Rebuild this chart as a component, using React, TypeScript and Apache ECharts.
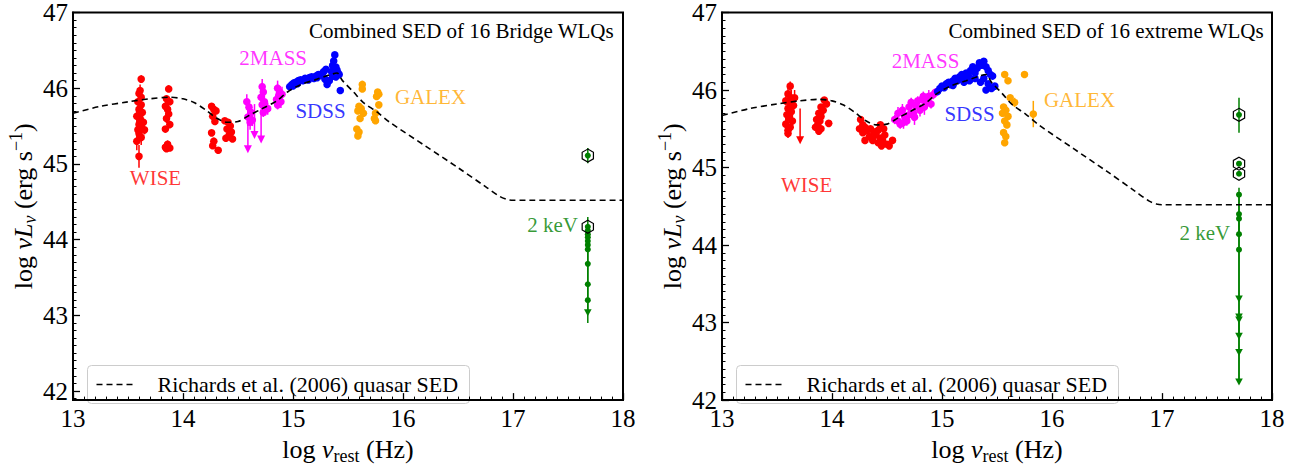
import React, { useEffect, useRef } from "react";
import * as echarts from "echarts";

// Richards et al. (2006) mean quasar SED, log nu vs log nuLnu
const SED_CURVE = [
  [13.0, 45.67], [13.25, 45.76], [13.5, 45.82], [13.7, 45.86], [13.88, 45.88], [14.0, 45.86],
  [14.1, 45.81], [14.2, 45.72], [14.3, 45.61], [14.4, 45.55], [14.5, 45.56], [14.6, 45.64],
  [14.72, 45.73], [14.85, 45.83], [14.95, 45.95], [15.06, 46.04], [15.22, 46.12], [15.34, 46.18],
  [15.4, 46.2], [15.45, 46.1], [15.55, 45.95], [15.64, 45.81], [15.76, 45.69], [15.88, 45.55],
  [16.2, 45.24], [16.5, 44.95], [16.75, 44.7], [16.88, 44.57], [16.95, 44.53], [17.0, 44.52], [18.0, 44.52],
];

// ---- Bridge WLQs: [log nu, log nuLnu, error] ----
const L_WISE = [
  [13.62, 46.12, 0.05], [13.61, 45.97, 0.08], [13.6, 45.93, 0.06], [13.62, 45.88, 0.1], [13.59, 45.82, 0.05],
  [13.62, 45.78, 0.12], [13.6, 45.72, 0.06], [13.63, 45.68, 0.08], [13.58, 45.63, 0.1], [13.61, 45.6, 0.05],
  [13.64, 45.55, 0.06], [13.6, 45.52, 0.1], [13.62, 45.48, 0.08], [13.59, 45.45, 0.12], [13.65, 45.45, 0.06],
  [13.6, 45.4, 0.08], [13.62, 45.35, 0.1], [13.58, 45.3, 0.12], [13.6, 45.1, 0.15],
  [13.87, 45.99, 0.04], [13.85, 45.86, 0.05], [13.88, 45.82, 0.04], [13.84, 45.76, 0.06], [13.86, 45.72, 0.05],
  [13.87, 45.66, 0.04], [13.85, 45.6, 0.06], [13.88, 45.52, 0.05], [13.84, 45.46, 0.04], [13.86, 45.26, 0.05],
  [13.84, 45.22, 0.04], [13.88, 45.21, 0.04], [13.85, 45.2, 0.03],
];
const L_WISE2 = [
  [14.26, 45.76, 0.03], [14.28, 45.72, 0.03], [14.3, 45.7, 0.03], [14.27, 45.63, 0.03], [14.29, 45.56, 0.03],
  [14.26, 45.41, 0.03], [14.28, 45.3, 0.03], [14.27, 45.24, 0.03], [14.32, 45.18, 0.03], [14.38, 45.57, 0.03],
  [14.41, 45.55, 0.03], [14.43, 45.5, 0.03], [14.4, 45.46, 0.03], [14.44, 45.42, 0.03], [14.42, 45.38, 0.03],
  [14.39, 45.34, 0.03], [14.45, 45.33, 0.03],
];
const L_2MASS = [
  [14.58, 45.82, 0.1], [14.6, 45.75, 0.08], [14.62, 45.68, 0.1], [14.59, 45.62, 0.12], [14.63, 45.58, 0.08],
  [14.61, 45.55, 0.1], [14.72, 46.02, 0.1], [14.73, 45.95, 0.08], [14.71, 45.88, 0.1], [14.74, 45.82, 0.12],
  [14.72, 45.78, 0.08], [14.75, 45.74, 0.1], [14.73, 45.68, 0.06], [14.77, 45.73, 0.08],
  [14.86, 46.0, 0.1], [14.88, 45.95, 0.08], [14.87, 45.9, 0.06], [14.85, 45.85, 0.1], [14.89, 45.82, 0.08],
  [14.86, 45.78, 0.06], [14.9, 45.92, 0.1],
];
// upper limits: [log nu, limit, arrow tip]
const L_2MASS_LIM = [
  [14.59, 45.86, 45.14], [14.65, 45.79, 45.33], [14.71, 45.72, 45.27],
];
const L_SDSS = [
  [14.97, 46.02, 0.01], [14.99, 46.05, 0.01], [15.01, 46.07, 0.01], [15.03, 46.08, 0.01], [15.05, 46.1, 0.01],
  [15.07, 46.11, 0.01], [15.09, 46.1, 0.01], [15.11, 46.13, 0.01], [15.13, 46.12, 0.01], [15.15, 46.14, 0.01],
  [15.17, 46.15, 0.01], [15.19, 46.13, 0.01], [15.21, 46.16, 0.01], [15.23, 46.18, 0.01], [15.25, 46.17, 0.01],
  [15.27, 46.2, 0.01], [15.28, 46.22, 0.01], [15.3, 46.25, 0.01], [15.29, 46.12, 0.01], [15.31, 46.05, 0.01],
  [15.33, 46.1, 0.01], [15.35, 46.22, 0.01], [15.36, 46.3, 0.01], [15.37, 46.36, 0.01], [15.38, 46.44, 0.01],
  [15.39, 46.28, 0.01], [15.4, 46.24, 0.01], [15.41, 46.2, 0.01], [15.42, 46.18, 0.01], [15.39, 46.15, 0.01],
  [15.43, 45.97, 0.01], [15.36, 46.16, 0.01], [15.0, 46.03, 0.01], [15.04, 46.06, 0.01], [15.14, 46.11, 0.01],
  [15.22, 46.14, 0.01],
];
const L_GALEX = [
  [15.63, 46.05, 0.02], [15.63, 45.99, 0.02], [15.6, 45.76, 0.02], [15.62, 45.73, 0.02], [15.59, 45.7, 0.02],
  [15.64, 45.67, 0.02], [15.61, 45.6, 0.02], [15.58, 45.46, 0.02], [15.6, 45.42, 0.02], [15.59, 45.37, 0.02],
  [15.77, 45.95, 0.02], [15.78, 45.92, 0.02], [15.76, 45.89, 0.02], [15.78, 45.78, 0.02], [15.75, 45.67, 0.02],
  [15.74, 45.6, 0.02], [15.75, 45.57, 0.02],
];
// 2 keV: [log nu, log nuLnu, error down, error up]
const L_XRAY = [
  [17.68, 45.11, 0.1, 0.1], [17.68, 44.17, 0.0, 0.13], [17.68, 44.12, 0.05, 0.05], [17.68, 44.07, 0.05, 0.05],
  [17.68, 44.03, 0.05, 0.05], [17.68, 43.98, 0.05, 0.05], [17.68, 43.93, 0.05, 0.05], [17.68, 43.87, 0.2, 0.06],
  [17.68, 43.68, 0.28, 0.2], [17.68, 43.41, 0.22, 0.27], [17.68, 43.2, 0.17, 0.2],
];
const L_XRAY_LIM = [[17.68, 43.04, 0.14, 0.16]];
const L_XRAY_HEX = [[17.68, 45.11], [17.68, 44.17]];

// ---- extreme WLQs ----
const R_WISE = [
  [13.62, 46.05, 0.06], [13.6, 45.95, 0.08], [13.63, 45.9, 0.1], [13.58, 45.86, 0.06], [13.62, 45.82, 0.12],
  [13.65, 45.8, 0.06], [13.6, 45.76, 0.1], [13.63, 45.72, 0.08], [13.59, 45.68, 0.1], [13.61, 45.64, 0.06],
  [13.64, 45.6, 0.08], [13.58, 45.56, 0.12], [13.62, 45.52, 0.06], [13.6, 45.48, 0.08], [13.66, 45.9, 0.1],
  [13.6, 45.44, 0.06],
  [13.93, 45.87, 0.04], [13.95, 45.82, 0.04], [13.9, 45.78, 0.04], [13.92, 45.74, 0.04], [13.88, 45.7, 0.04],
  [13.9, 45.66, 0.04], [13.86, 45.62, 0.04], [13.89, 45.6, 0.04], [13.87, 45.55, 0.04], [13.85, 45.52, 0.04],
  [13.9, 45.5, 0.04], [13.97, 45.57, 0.04], [13.88, 45.47, 0.04],
];
const R_WISE_LIM = [[13.71, 45.76, 45.3]];
const R_WISE2 = [
  [14.26, 45.62, 0.03], [14.28, 45.55, 0.03], [14.25, 45.5, 0.03], [14.3, 45.52, 0.03], [14.32, 45.48, 0.03],
  [14.28, 45.45, 0.03], [14.35, 45.5, 0.03], [14.38, 45.46, 0.03], [14.4, 45.42, 0.03], [14.42, 45.48, 0.03],
  [14.44, 45.38, 0.03], [14.46, 45.35, 0.03], [14.48, 45.42, 0.03], [14.5, 45.3, 0.03], [14.52, 45.28, 0.03],
  [14.45, 45.28, 0.03], [14.42, 45.32, 0.03], [14.3, 45.35, 0.03], [14.34, 45.4, 0.03], [14.37, 45.35, 0.03],
  [14.55, 45.35, 0.03], [14.47, 45.5, 0.03], [14.44, 45.55, 0.03],
];
const R_2MASS = [
  [14.57, 45.62, 0.06], [14.6, 45.7, 0.08], [14.62, 45.56, 0.06], [14.64, 45.74, 0.08], [14.66, 45.66, 0.1],
  [14.68, 45.6, 0.06], [14.7, 45.78, 0.08], [14.72, 45.84, 0.06], [14.74, 45.7, 0.1], [14.76, 45.8, 0.08],
  [14.78, 45.86, 0.06], [14.8, 45.74, 0.08], [14.82, 45.88, 0.06], [14.84, 45.78, 0.1], [14.86, 45.84, 0.06],
  [14.88, 45.92, 0.08], [14.9, 45.82, 0.06], [14.92, 45.94, 0.06], [14.94, 45.97, 0.05], [14.65, 45.58, 0.08],
  [14.75, 45.65, 0.1], [14.6, 45.6, 0.06], [14.7, 45.68, 0.08], [14.83, 45.92, 0.06],
];
const R_SDSS = [
  [14.96, 45.98, 0.01], [14.98, 46.02, 0.01], [15.0, 46.05, 0.01], [15.02, 46.03, 0.01], [15.04, 46.08, 0.01],
  [15.06, 46.1, 0.01], [15.08, 46.07, 0.01], [15.1, 46.12, 0.01], [15.12, 46.15, 0.01], [15.14, 46.12, 0.01],
  [15.16, 46.17, 0.01], [15.18, 46.2, 0.01], [15.2, 46.15, 0.01], [15.22, 46.22, 0.01], [15.24, 46.18, 0.01],
  [15.26, 46.25, 0.01], [15.28, 46.3, 0.01], [15.3, 46.22, 0.01], [15.32, 46.28, 0.01], [15.34, 46.35, 0.01],
  [15.36, 46.32, 0.01], [15.38, 46.37, 0.01], [15.4, 46.3, 0.01], [15.42, 46.25, 0.01], [15.44, 46.2, 0.01],
  [15.46, 46.18, 0.01], [15.38, 46.15, 0.01], [15.42, 46.08, 0.01], [15.45, 46.02, 0.01], [15.48, 46.05, 0.01],
  [15.35, 46.1, 0.01], [15.4, 46.0, 0.01], [15.1, 46.06, 0.01], [15.2, 46.1, 0.01], [15.3, 46.15, 0.01],
  [15.25, 46.12, 0.01],
];
const R_GALEX = [
  [15.57, 46.2, 0.02], [15.6, 46.12, 0.02], [15.56, 45.78, 0.02], [15.58, 45.74, 0.02], [15.55, 45.7, 0.02],
  [15.6, 45.66, 0.02], [15.57, 45.6, 0.02], [15.59, 45.55, 0.02], [15.56, 45.45, 0.02], [15.58, 45.4, 0.02],
  [15.57, 45.32, 0.02], [15.66, 45.84, 0.06], [15.75, 46.2, 0.02], [15.83, 45.69, 0.17], [15.62, 45.9, 0.02],
];
const R_XRAY = [
  [17.7, 45.68, 0.23, 0.22], [17.7, 45.05, 0, 0], [17.7, 44.92, 0, 0], [17.7, 44.65, 0.25, 0.09],
  [17.7, 44.4, 0.26, 0.25], [17.7, 44.34, 0.2, 0.06], [17.7, 44.14, 0.2, 0.2], [17.7, 43.94, 0.63, 0.2],
];
const R_XRAY_LIM = [
  [17.7, 43.31, 0.23, 0.63], [17.7, 43.08, 0.25, 0.23], [17.7, 43.04, 0.21, 0.04],
  [17.7, 42.83, 0.21, 0.21], [17.7, 42.62, 0.38, 0.21], [17.7, 42.24, 0.02, 0.38],
];
const R_XRAY_HEX = [[17.7, 45.68], [17.7, 45.05], [17.7, 44.92]];

// band names placed in data coordinates
const L_LABELS = [["WISE", 13.75, 44.82], ["2MASS", 14.82, 46.4], ["SDSS", 15.25, 45.7], ["GALEX", 16.25, 45.88], ["2 keV", 17.36, 44.19]];
const R_LABELS = [["WISE", 13.77, 44.78], ["2MASS", 14.85, 46.37], ["SDSS", 15.25, 45.69], ["GALEX", 16.25, 45.87], ["2 keV", 17.39, 44.15]];

const TITLES = ["Combined SED of 16 Bridge WLQs", "Combined SED of 16 extreme WLQs"];
const LEGEND_TEXT = "Richards et al. (2006) quasar SED";
const X_TICKS = [13, 14, 15, 16, 17, 18];
const Y_TICKS = [42, 43, 44, 45, 46, 47];

const BAND_COLOR: Record<string, string> = {
  WISE: "#ff0000", "2MASS": "#ff00ff", SDSS: "#0000ff", GALEX: "#ffa500", "2 keV": "#008000",
};

const FONT = "'Liberation Serif', 'Times New Roman', serif";

function dots(xi: number, yi: number, data: number[][], color: string, r: number) {
  return {
    type: "custom", xAxisIndex: xi, yAxisIndex: yi, data, z: 3, silent: true,
    renderItem: (_p: any, api: any) => {
      const x = api.value(0), y = api.value(1), e = api.value(2);
      const c = api.coord([x, y]);
      const kids: any[] = [];
      if (e > 0) {
        const t = api.coord([x, y + e]);
        const b = api.coord([x, y - e]);
        kids.push({ type: "line", shape: { x1: t[0], y1: t[1], x2: b[0], y2: b[1] }, style: { stroke: color, lineWidth: 1.5 } });
      }
      kids.push({ type: "circle", shape: { cx: c[0], cy: c[1], r }, style: { fill: color } });
      return { type: "group", children: kids };
    },
  };
}

function limits(xi: number, yi: number, data: number[][], color: string) {
  return {
    type: "custom", xAxisIndex: xi, yAxisIndex: yi, data, z: 3, silent: true,
    renderItem: (_p: any, api: any) => {
      const x = api.value(0);
      const a = api.coord([x, api.value(1)]);
      const b = api.coord([x, api.value(2)]);
      return {
        type: "group",
        children: [
          { type: "line", shape: { x1: a[0], y1: a[1], x2: b[0], y2: b[1] - 6 }, style: { stroke: color, lineWidth: 1.5 } },
          { type: "polygon", shape: { points: [[b[0] - 4, b[1] - 8], [b[0] + 4, b[1] - 8], [b[0], b[1]]] }, style: { fill: color } },
        ],
      };
    },
  };
}

function xray(xi: number, yi: number, data: number[][], color: string, tri: boolean) {
  return {
    type: "custom", xAxisIndex: xi, yAxisIndex: yi, data, z: 3, silent: true,
    renderItem: (_p: any, api: any) => {
      const x = api.value(0), y = api.value(1);
      const c = api.coord([x, y]);
      const lo = api.coord([x, y - api.value(2)]);
      const hi = api.coord([x, y + api.value(3)]);
      const kids: any[] = [
        { type: "line", shape: { x1: hi[0], y1: hi[1], x2: lo[0], y2: lo[1] }, style: { stroke: color, lineWidth: 1.5 } },
      ];
      if (tri) {
        kids.push({ type: "polygon", shape: { points: [[c[0] - 3.8, c[1] - 3], [c[0] + 3.8, c[1] - 3], [c[0], c[1] + 4]] }, style: { fill: color } });
      } else {
        kids.push({ type: "circle", shape: { cx: c[0], cy: c[1], r: 3 }, style: { fill: color } });
      }
      return { type: "group", children: kids };
    },
  };
}

function hexes(xi: number, yi: number, data: number[][]) {
  return {
    type: "custom", xAxisIndex: xi, yAxisIndex: yi, data, z: 4, silent: true,
    renderItem: (_p: any, api: any) => {
      const c = api.coord([api.value(0), api.value(1)]);
      const R = 6.5;
      const pts: number[][] = [];
      for (let k = 0; k < 6; k++) {
        const ang = -Math.PI / 2 + (k * Math.PI) / 3;
        pts.push([c[0] + R * Math.cos(ang), c[1] + R * Math.sin(ang)]);
      }
      return { type: "polygon", shape: { points: pts }, style: { fill: "none", stroke: "#000", lineWidth: 1.2 } };
    },
  };
}

function bandLabels(xi: number, yi: number, labels: (string | number)[][]) {
  return {
    type: "scatter", xAxisIndex: xi, yAxisIndex: yi, symbolSize: 1, z: 5, silent: true,
    itemStyle: { color: "transparent" },
    data: labels.map((l) => ({
      value: [l[1], l[2]],
      label: {
        show: true, position: "inside", formatter: String(l[0]),
        color: BAND_COLOR[String(l[0])], fontFamily: FONT, fontSize: 21,
      },
    })),
  };
}

function sedLine(xi: number, yi: number) {
  return {
    type: "line", xAxisIndex: xi, yAxisIndex: yi, data: SED_CURVE, symbol: "none", smooth: 0.3, z: 6,
    silent: true, lineStyle: { color: "#000", width: 1.6, type: [6, 4] },
  };
}

const rich = {
  n: { fontFamily: FONT, fontSize: 26, lineHeight: 32, color: "#000" },
  i: { fontFamily: FONT, fontSize: 26, lineHeight: 32, fontStyle: "italic", color: "#000" },
  sub: { fontFamily: FONT, fontSize: 18, lineHeight: 18, verticalAlign: "bottom", color: "#000" },
  subi: { fontFamily: FONT, fontSize: 18, lineHeight: 18, verticalAlign: "bottom", fontStyle: "italic", color: "#000" },
  sup: { fontFamily: FONT, fontSize: 18, lineHeight: 18, verticalAlign: "top", color: "#000" },
};

const Y_NAME = "{n|log }{i|νL}{subi|ν}{n| (erg s}{sup|−1}{n|)}";
const X_NAME = "{n|log }{i|ν}{sub|rest}{n| (Hz)}";

const GRID_LEFT = [73, 722];

export default function App() {
  const ref = useRef<HTMLDivElement>(null);
  useEffect(() => {
    if (!ref.current) return;
    const chart = echarts.init(ref.current, null, { renderer: "svg" });

    const tickLabel = { color: "#000", fontFamily: FONT, fontSize: 25 };
    const minorY: number[] = [];
    for (let k = 0; k < 51; k++) {
      const v = Math.round((41.9 + k * 0.1) * 10) / 10;
      if (Math.abs(v - Math.round(v)) > 1e-6 && v < 47) minorY.push(v);
    }

    const xAxis = [0, 1].map((g) => ({
      type: "value", gridIndex: g, min: 13, max: 18, interval: 1,
      name: X_NAME, nameLocation: "middle", nameGap: 27, nameTextStyle: { rich },
      axisLine: { show: true, onZero: false, lineStyle: { color: "#000", width: 2 } },
      axisTick: { show: true, inside: true, length: 7, lineStyle: { color: "#000", width: 1.3 } },
      minorTick: { show: true, splitNumber: 10, length: 3.5, lineStyle: { color: "#000", width: 1 } },
      axisLabel: { ...tickLabel, lineHeight: 19, margin: 9, customValues: X_TICKS },
      splitLine: { show: false },
    }));

    const yCommon = {
      type: "value",
      name: Y_NAME, nameLocation: "middle", nameRotate: 90, nameGap: 33, nameTextStyle: { rich },
      axisLine: { show: true, onZero: false, lineStyle: { color: "#000", width: 2 } },
      splitLine: { show: false },
    };

    const yAxis = [
      {
        ...yCommon, gridIndex: 0, min: 41.88, max: 47, position: "left",
        axisTick: { show: true, inside: true, length: 7, customValues: Y_TICKS, lineStyle: { color: "#000", width: 1.3 } },
        axisLabel: { ...tickLabel, lineHeight: 17, margin: 5, customValues: Y_TICKS },
      },
      {
        type: "value", gridIndex: 0, min: 41.88, max: 47, position: "left", offset: 0,
        axisLine: { show: false },
        axisTick: { show: true, inside: true, length: 3.5, customValues: minorY, lineStyle: { color: "#000", width: 1 } },
        axisLabel: { show: false },
        splitLine: { show: false },
      },
      {
        ...yCommon, gridIndex: 1, min: 42, max: 47, interval: 1, position: "left",
        axisTick: { show: true, inside: true, length: 7, lineStyle: { color: "#000", width: 1.3 } },
        minorTick: { show: true, splitNumber: 10, length: 3.5, lineStyle: { color: "#000", width: 1 } },
        axisLabel: { ...tickLabel, lineHeight: 17, margin: 5 },
      },
    ];

    const series: any[] = [
      dots(0, 0, L_WISE, BAND_COLOR.WISE, 3.8),
      dots(0, 0, L_WISE2, BAND_COLOR.WISE, 3.8),
      dots(0, 0, L_2MASS, BAND_COLOR["2MASS"], 3.8),
      limits(0, 0, L_2MASS_LIM, BAND_COLOR["2MASS"]),
      dots(0, 0, L_SDSS, BAND_COLOR.SDSS, 3.8),
      dots(0, 0, L_GALEX, BAND_COLOR.GALEX, 3.8),
      xray(0, 0, L_XRAY, BAND_COLOR["2 keV"], false),
      xray(0, 0, L_XRAY_LIM, BAND_COLOR["2 keV"], true),
      hexes(0, 0, L_XRAY_HEX),
      sedLine(0, 0),
      bandLabels(0, 0, L_LABELS),

      dots(1, 2, R_WISE, BAND_COLOR.WISE, 3.8),
      limits(1, 2, R_WISE_LIM, BAND_COLOR.WISE),
      dots(1, 2, R_WISE2, BAND_COLOR.WISE, 3.8),
      dots(1, 2, R_2MASS, BAND_COLOR["2MASS"], 3.8),
      dots(1, 2, R_SDSS, BAND_COLOR.SDSS, 3.8),
      dots(1, 2, R_GALEX, BAND_COLOR.GALEX, 3.8),
      xray(1, 2, R_XRAY, BAND_COLOR["2 keV"], false),
      xray(1, 2, R_XRAY_LIM, BAND_COLOR["2 keV"], true),
      hexes(1, 2, R_XRAY_HEX),
      sedLine(1, 2),
      bandLabels(1, 2, R_LABELS),
    ];

    // legend boxes drawn per panel
    const graphic: any[] = [];
    GRID_LEFT.forEach((gx) => {
      graphic.push({
        type: "group", left: gx + 14, top: 365, z: 10,
        children: [
          { type: "rect", shape: { x: 0, y: 0, width: 382, height: 38, r: 4 }, style: { fill: "rgba(255,255,255,0.8)", stroke: "#cccccc", lineWidth: 1 } },
          { type: "line", shape: { x1: 9, y1: 19, x2: 49, y2: 19 }, style: { stroke: "#000", lineWidth: 1.6, lineDash: [6, 4] } },
          { type: "text", x: 70, y: 19, style: { text: LEGEND_TEXT, fill: "#000", font: `22px ${FONT}`, verticalAlign: "middle" } },
        ],
      });
    });

    chart.setOption({
      animation: false,
      backgroundColor: "#fff",
      title: TITLES.map((t, k) => ({
        text: t, right: k === 0 ? 687 : 37, top: 20, padding: 0,
        textStyle: { fontFamily: FONT, fontSize: 21, fontWeight: "normal", color: "#000" },
      })),
      grid: GRID_LEFT.map((gx) => ({
        left: gx, top: 12, width: 550, height: 401, show: true, borderColor: "#000", borderWidth: 2, backgroundColor: "transparent",
      })),
      xAxis, yAxis, series, graphic,
    });
    return () => chart.dispose();
  }, []);
  return <div ref={ref} style={{ position: "fixed", left: 0, top: 0, width: 1301, height: 470, background: "#fff" }} />;
}
